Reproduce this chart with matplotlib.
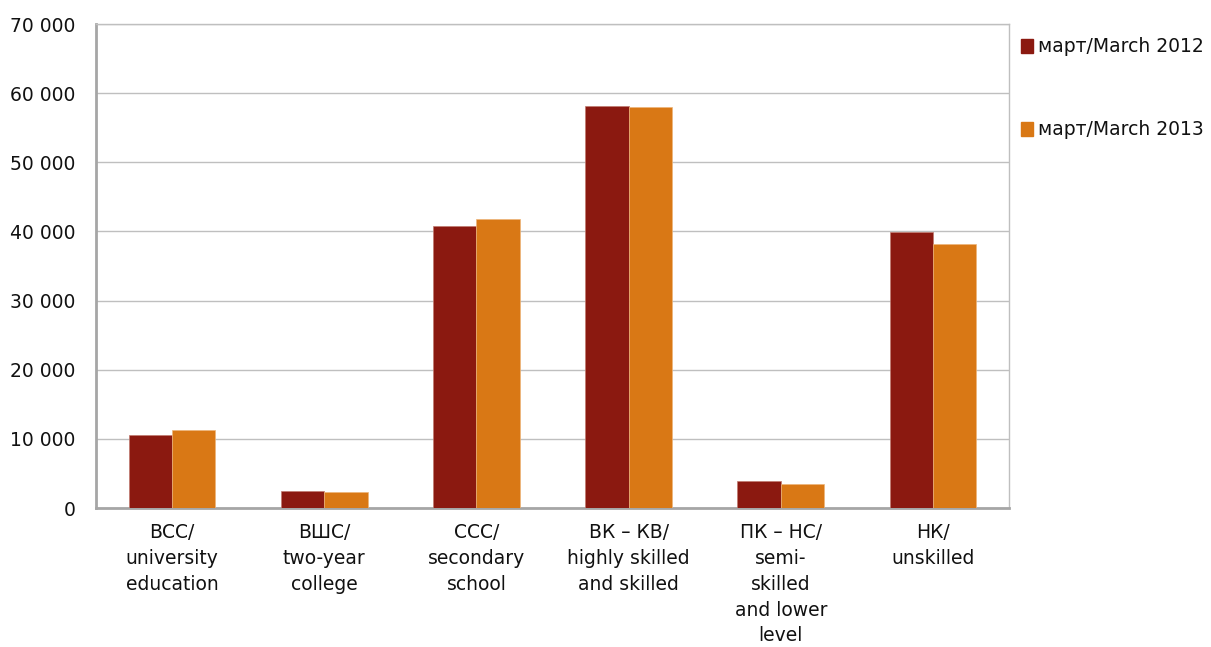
import numpy as np
import matplotlib.pyplot as plt
from matplotlib.patches import Patch

# Data
categories = ['ВСС/\nuniversity\neducation', 'ВШС/\ntwo-year\ncollege',
              'ССС/\nsecondary\nschool', 'ВК – КВ/\nhighly skilled\nand skilled',
              'ПК – НС/\nsemi-\nskilled\nand lower\nlevel', 'НК/\nunskilled']
march_2012 = [10530, 2450, 40800, 58200, 3900, 39960]
march_2013 = [11210, 2310, 41800, 58030, 3460, 38110]
series_labels = ['март/March 2012', 'март/March 2013']

c2012 = '#8B1910'
c2013 = '#D97815'

plt.rcParams['font.family'] = ['DejaVu Sans']
fig = plt.figure(figsize=(12.11, 6.47), dpi=100)
ax = fig.add_axes([96 / 1211, 1 - 508 / 647, 913 / 1211, 484 / 647])

x = np.arange(len(categories))
w = 0.285
ax.bar(x - w / 2, march_2012, w, color=c2012, edgecolor='#C07A70', linewidth=0.5, zorder=3)
ax.bar(x + w / 2, march_2013, w, color=c2013, edgecolor='#EDB57A', linewidth=0.5, zorder=3)

ax.set_xlim(-0.5, len(categories) - 0.5)
ax.set_ylim(0, 70000)
ax.set_yticks(range(0, 70001, 10000))
ax.set_yticklabels(['0' if v == 0 else f'{v // 1000} 000' for v in range(0, 70001, 10000)])
ax.yaxis.grid(True, color='#BFBFBF', linewidth=1, zorder=0)
ax.set_xticks(x)
ax.set_xticklabels(categories, linespacing=1.45)
ax.tick_params(axis='both', length=0, labelsize=13.5, colors='#111111')
ax.tick_params(axis='x', pad=11)
ax.tick_params(axis='y', pad=15)
for s in ['top', 'right']:
    ax.spines[s].set_color('#BFBFBF')
    ax.spines[s].set_linewidth(1)
for s in ['left', 'bottom']:
    ax.spines[s].set_color('#A6A6A6')
    ax.spines[s].set_linewidth(2)

handles = [Patch(color=c2012), Patch(color=c2013)]
fig.legend(handles, series_labels, loc='upper left', bbox_to_anchor=(1014 / 1211, 1 - 30 / 647),
           frameon=False, fontsize=13.5, handlelength=0.6, handleheight=0.8,
           handletextpad=0.3, labelspacing=3.4, borderaxespad=0, labelcolor='#111111')

fig.savefig('out.png', dpi=100)
